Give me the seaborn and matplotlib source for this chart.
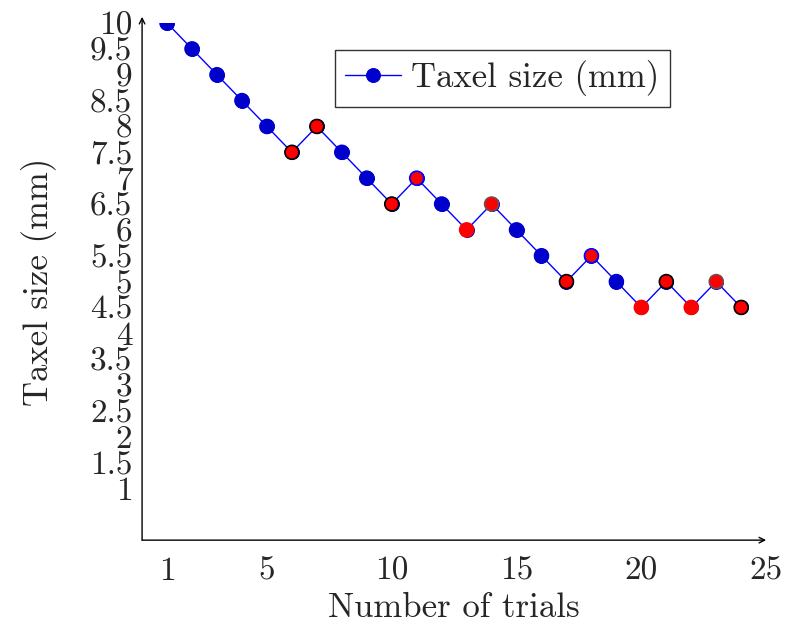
import numpy as np
import pandas as pd
import matplotlib
matplotlib.use("Agg")
import matplotlib.pyplot as plt
import seaborn as sns

sns.set_style("white")
plt.rcParams['font.family'] = ['cmr10', 'DejaVu Serif']
plt.rcParams['axes.formatter.use_mathtext'] = True
plt.rcParams['mathtext.fontset'] = 'cm'

# data
trials = list(range(1, 25))
taxel_size = [10, 9.5, 9, 8.5, 8, 7.5, 8, 7.5, 7, 6.5, 7, 6.5,
              6, 6.5, 6, 5.5, 5, 5.5, 5, 4.5, 5, 4.5, 5, 4.5]
# marker kind per trial: b = blue, rk = red/black edge, rb = red/blue edge,
# rr = red/red edge, rg = red/grey edge
marker_kind = ['b', 'b', 'b', 'b', 'b', 'rk', 'rk', 'b', 'b', 'rk', 'rb', 'b',
               'rr', 'rg', 'b', 'b', 'rk', 'rb', 'b', 'rr', 'rk', 'rr', 'rg', 'rk']
x_ticks = [1, 5, 10, 15, 20, 25]
y_ticks = [1, 1.5, 2, 2.5, 3, 3.5, 4, 4.5, 5, 5.5, 6, 6.5, 7, 7.5, 8, 8.5, 9, 9.5, 10]

df = pd.DataFrame({'trial': trials, 'size': taxel_size, 'kind': marker_kind})

face = {'b': '#0000cc', 'rk': 'red', 'rb': 'red', 'rr': 'red', 'rg': 'red'}
edge = {'b': '#0000cc', 'rk': 'black', 'rb': 'blue', 'rr': 'red', 'rg': '#7a4a4a'}

fig = plt.figure(figsize=(7.85, 6.31), dpi=100)
ax = fig.add_axes([0.181, 0.144, 0.795, 0.8195])

sns.lineplot(data=df, x='trial', y='size', color='blue', linewidth=1.0,
             marker='o', markersize=10, markerfacecolor='#0000cc',
             markeredgecolor='#0000cc', label='Taxel size (mm)', ax=ax, zorder=2)
ax.scatter(df['trial'], df['size'],
           c=[face[k] for k in df['kind']],
           edgecolors=[edge[k] for k in df['kind']],
           s=100, linewidths=1.2, zorder=3)

ax.set_xlim(0, 25)
ax.set_ylim(0, 10)
ax.set_xticks(x_ticks)
ax.set_xticklabels([str(t) for t in x_ticks])
ax.set_yticks(y_ticks)
ax.set_yticklabels([f"{t:g}" for t in y_ticks])
ax.tick_params(axis='both', direction='inout', length=8, width=0.8,
               color='#999999', labelsize=24, pad=3)
ax.tick_params(axis='x', pad=8)

for s in ax.spines.values():
    s.set_visible(False)
ax.annotate('', xy=(1.0, 0), xytext=(0, 0), xycoords='axes fraction',
            arrowprops=dict(arrowstyle='->', color='black', lw=1.0,
                            shrinkA=0, shrinkB=0))
ax.annotate('', xy=(0, 1.012), xytext=(0, 0), xycoords='axes fraction',
            arrowprops=dict(arrowstyle='->', color='black', lw=1.0,
                            shrinkA=0, shrinkB=0))

ax.set_xlabel('Number of trials', fontsize=25, labelpad=5)
ax.set_ylabel('Taxel size (mm)', fontsize=25, labelpad=24)

leg = ax.legend(loc='upper center', bbox_to_anchor=(0.577, 0.948),
                borderaxespad=0, fontsize=25, frameon=True, fancybox=False,
                edgecolor='black', handlelength=1.6, borderpad=0.3,
                handletextpad=0.3)
leg.get_frame().set_linewidth(1.0)

fig.savefig('out.png', dpi=100)
